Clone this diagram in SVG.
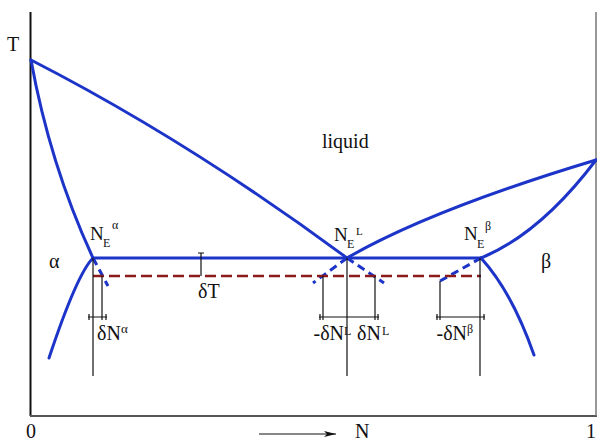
<svg xmlns="http://www.w3.org/2000/svg" width="597" height="443" viewBox="0 0 597 443">
<defs>
<style>
text{font-family:"Liberation Serif","DejaVu Serif","Times New Roman",serif;fill:#111;}
.m{font-size:20px;}
.s{font-size:12px;}
.blue{fill:none;stroke:#1c34c8;stroke-width:3;stroke-linecap:round;}
.bdash{fill:none;stroke:#1c34c8;stroke-width:3;stroke-dasharray:8 5;}
.red{fill:none;stroke:#8b1a1a;stroke-width:2.5;stroke-dasharray:11 5;}
.thin{fill:none;stroke:#111;stroke-width:1.2;}
</style>
<marker id="ah" viewBox="0 0 12 6" refX="12" refY="3" markerWidth="12" markerHeight="6" markerUnits="userSpaceOnUse" orient="auto">
<path d="M0,0 L12,3 L0,6 L3,3 Z" fill="#111"/>
</marker>
</defs>
<rect width="597" height="443" fill="#fff"/>
<g id="axes" font-family="Liberation Serif, serif">
<line x1="30.5" y1="12" x2="30.5" y2="416" stroke="#111" stroke-width="2"/>
<line x1="30" y1="416" x2="597" y2="416" stroke="#555" stroke-width="2"/>
<line x1="596" y1="12" x2="596" y2="416" stroke="#777" stroke-width="1.5"/>
<line x1="259" y1="434" x2="336" y2="434" stroke="#111" stroke-width="1.2" marker-end="url(#ah)"/>
<text class="m" x="7" y="51">T</text>
<text class="m" x="26" y="438">0</text>
<text class="m" x="355" y="438">N</text>
<text class="m" x="586" y="438">1</text>
</g>
<g id="curves">
<path class="blue" d="M31,60 Q189,141 347,258"/>
<path class="blue" d="M31,60 Q50,165 93,258"/>
<path class="blue" d="M93,258 Q77,274 49,358"/>
<path class="blue" d="M93,258 L481,258"/>
<path class="blue" d="M347,258 Q430,210 596,160"/>
<path class="blue" d="M481,258 Q540,234 596,160"/>
<path class="blue" d="M481,258 Q512,292 534,355"/>
<path class="bdash" d="M93,258 L108,286"/>
<path class="bdash" d="M347,258 L313,283"/>
<path class="bdash" d="M347,258 L384,283"/>
<path class="bdash" d="M481,258 L440,281"/>
<path class="red" d="M93,276 L481,276"/>
</g>
<g id="dimensions">
<line class="thin" x1="93" y1="258" x2="93" y2="376"/>
<line class="thin" x1="347" y1="258" x2="347" y2="376"/>
<line class="thin" x1="480" y1="258" x2="480" y2="376"/>
<line class="thin" x1="102" y1="276" x2="102" y2="320"/>
<line class="thin" x1="323" y1="276" x2="323" y2="320"/>
<line class="thin" x1="375" y1="276" x2="375" y2="320"/>
<line class="thin" x1="440" y1="281" x2="440" y2="320"/>
<path class="thin" d="M88,317 H107 M89,314 V320 M106,314 V320"/>
<path class="thin" d="M319,317 H379 M320,314 V320 M378,314 V320"/>
<path class="thin" d="M436,317 H485 M437,314 V320 M484,314 V320"/>
<path class="thin" d="M201,253 V276 M198,253 H204"/>
</g>
<g id="labels" font-family="Liberation Serif, serif">
<text class="m" x="322" y="148">liquid</text>
<text class="m" x="49" y="268">α</text>
<text class="m" x="541" y="268">β</text>
<g id="NEa"><text font-size="19" x="90" y="240">N</text><text class="s" x="103" y="247">E</text><text class="s" x="112" y="229">α</text></g>
<g id="NEL"><text font-size="19" x="334" y="241">N</text><text class="s" x="347" y="248">E</text><text font-size="11" x="356" y="235">L</text></g>
<g id="NEb"><text font-size="19" x="464" y="240">N</text><text class="s" x="477" y="248">E</text><text class="s" x="485" y="230">β</text></g>
<text class="m" x="198" y="298">δT</text>
<g id="dNa"><text class="m" x="97" y="340">δN</text><text font-size="13" x="121" y="333">α</text></g>
<g id="mdNL"><text class="m" x="344" y="340" text-anchor="end">-δN</text><text class="s" x="344" y="335">L</text></g>
<g id="dNL"><text class="m" x="357" y="340">δN</text><text class="s" x="382" y="335">L</text></g>
<g id="mdNb"><text class="m" x="467" y="340" text-anchor="end">-δN</text><text class="s" x="467" y="333">β</text></g>
</g>
</svg>
